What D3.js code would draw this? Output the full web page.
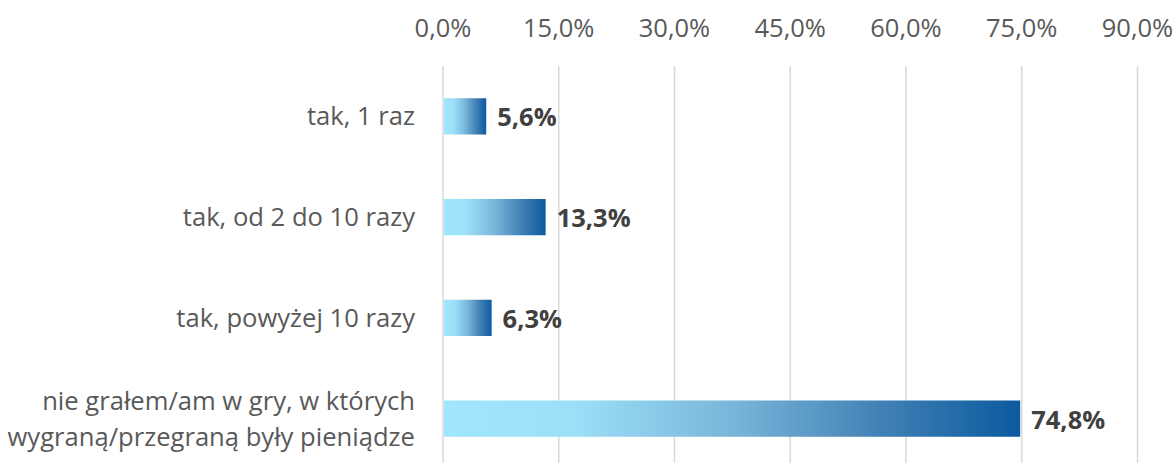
<!DOCTYPE html>
<html>
<head>
<meta charset="utf-8">
<script src="https://cdn.jsdelivr.net/npm/d3@7"></script>
<style>
  body { margin: 0; background: #fff; }
  svg { display: block; font-family: "Open Sans", "Noto Sans", sans-serif; }
</style>
</head>
<body>
<div id="chart"></div>
<script>
// data
var categories = [
    ["tak, 1 raz"],
    ["tak, od 2 do 10 razy"],
    ["tak, powyżej 10 razy"],
    ["nie grałem/am w gry, w których", "wygraną/przegraną były pieniądze"]
];
var values = [5.6, 13.3, 6.3, 74.8];
var tickValues = [0, 15, 30, 45, 60, 75, 90];

var width = 1176, height = 463;

function fmt(v){
    return v.toFixed(1).replace('.', ',') + '%';
}

var svg = d3.select("#chart").append("svg")
    .attr("width", width)
    .attr("height", height);

var defs = svg.append("defs");
var grad = defs.append("linearGradient")
    .attr("id", "barGrad")
    .attr("x1", "0%").attr("x2", "100%")
    .attr("y1", "0%").attr("y2", "0%");
grad.append("stop").attr("offset", "0%").attr("stop-color", "#a0e6fc");
grad.append("stop").attr("offset", "22%").attr("stop-color", "#9ce0f8");
grad.append("stop").attr("offset", "50%").attr("stop-color", "#79b6da");
grad.append("stop").attr("offset", "75%").attr("stop-color", "#4382b6");
grad.append("stop").attr("offset", "100%").attr("stop-color", "#0b5a9f");

var x = d3.scaleLinear().domain([0, 90]).range([443, 1137.5]);
var y = d3.scaleBand()
    .domain(d3.range(values.length))
    .range([66, 469])
    .paddingInner(0.64)
    .paddingOuter(0.32);

// gridlines
svg.append("g").selectAll("line")
    .data(tickValues).enter().append("line")
    .attr("x1", function(d){ return x(d); })
    .attr("x2", function(d){ return x(d); })
    .attr("y1", 66)
    .attr("y2", height)
    .attr("stroke", "#d9d9d9")
    .attr("stroke-width", 1.5);

// top axis labels
svg.append("g").selectAll("text")
    .data(tickValues).enter().append("text")
    .attr("x", function(d){ return x(d); })
    .attr("y", 37)
    .attr("text-anchor", "middle")
    .attr("font-size", "25.5px")
    .attr("fill", "#595959")
    .text(fmt);

// bars
svg.append("g").selectAll("rect")
    .data(values).enter().append("rect")
    .attr("x", x(0) + 1)
    .attr("y", function(d, i){ return y(i); })
    .attr("width", function(d){ return x(d) - x(0) - 1; })
    .attr("height", y.bandwidth())
    .attr("fill", "url(#barGrad)");

// value labels
svg.append("g").selectAll("text")
    .data(values).enter().append("text")
    .attr("x", function(d){ return x(d) + 11; })
    .attr("y", function(d, i){ return y(i) + y.bandwidth() / 2 + 10; })
    .attr("font-size", "25.5px")
    .attr("font-weight", "bold")
    .attr("fill", "#404040")
    .text(fmt);

// category labels
var cat = svg.append("g").selectAll("text")
    .data(categories).enter().append("text")
    .attr("x", 415)
    .attr("y", function(d, i){ return y(i) + y.bandwidth() / 2 + 9; })
    .attr("text-anchor", "end")
    .attr("font-size", "25.6px")
    .attr("fill", "#595959");

cat.each(function(lines){
    var t = d3.select(this);
    var lh = 36;
    var off = -(lines.length - 1) * lh / 2;
    lines.forEach(function(s, k){
        t.append("tspan")
            .attr("x", 415)
            .attr("dy", k == 0 ? off : lh)
            .text(s);
    });
});
</script>
</body>
</html>
